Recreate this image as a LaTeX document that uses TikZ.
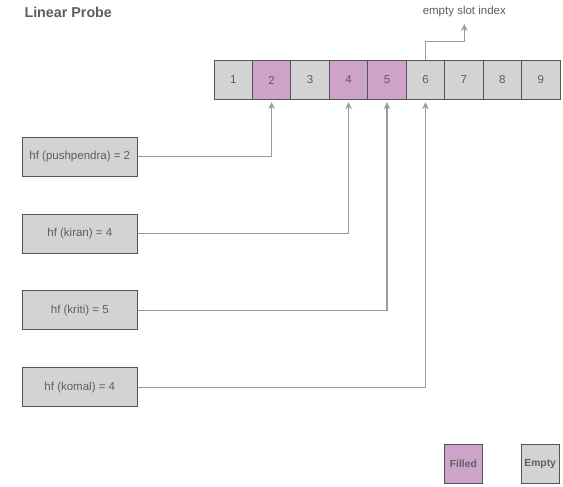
\documentclass[tikz,border=0pt]{standalone}
\usepackage{fontspec}
\setmainfont{Liberation Sans}
\usetikzlibrary{arrows.meta}
\definecolor{cellgray}{HTML}{D3D3D3}
\definecolor{cellpink}{HTML}{CDA3C7}
\definecolor{edgegray}{HTML}{555555}
\definecolor{txtgray}{HTML}{5E5E5E}
\definecolor{linegray}{HTML}{9A9A9A}
\tikzset{
  cell/.style={draw=edgegray, line width=0.9pt, minimum width=38.4pt, minimum height=38.4pt,
    inner sep=0pt, text=txtgray, font=\fontsize{11.5}{13}\selectfont},
  emptycell/.style={cell, fill=cellgray},
  filledcell/.style={cell, fill=cellpink},
  hfbox/.style={draw=edgegray, line width=0.9pt, fill=cellgray, minimum width=115.5pt,
    minimum height=39pt, inner sep=0pt, text=txtgray, font=\fontsize{11.5}{13}\selectfont},
  legendbox/.style={draw=edgegray, line width=0.9pt, minimum width=38.5pt, minimum height=39pt,
    inner sep=0pt, text=txtgray, font=\bfseries\fontsize{10.3}{12}\selectfont},
  conn/.style={draw=linegray, line width=1.1pt, -{Stealth[length=7pt,width=6.5pt]}},
}
\begin{document}
\begin{tikzpicture}[x=1pt,y=-1pt]
\useasboundingbox (0,0) rectangle (563,487);
\node[anchor=west, text=txtgray, font=\bfseries\fontsize{14.3}{16}\selectfont] (title) at (21,12) {Linear Probe};
% array cells
\foreach \i/\s in {1/emptycell,2/filledcell,3/emptycell,4/filledcell,5/filledcell,6/emptycell,7/emptycell,8/emptycell,9/emptycell}{
  \node[\s] (c\i) at ({214+38.45*(\i-1)+19.2},80) {\i};
}
% hf boxes
\node[hfbox] (hp) at (79.8,156.6) {hf (pushpendra) = 2};
\node[hfbox] (hk) at (79.8,233.5) {hf (kiran) = 4};
\node[hfbox] (hr) at (79.8,310.4) {hf (kriti) = 5};
\node[hfbox] (hm) at (79.8,387.2) {hf (komal) = 4};
% connectors
\coordinate (t2) at ([yshift=-2.5pt]c2.south);
\coordinate (t4) at ([yshift=-2.5pt]c4.south);
\coordinate (t5) at ([yshift=-2.5pt]c5.south);
\coordinate (t6) at ([yshift=-2.5pt]c6.south);
\draw[conn] (hp.east) -| (t2);
\draw[conn] (hk.east) -| (t4);
\draw[conn] (hr.east) -| (t5);
\draw[conn] (hm.east) -| (t6);
% empty slot index
\node[text=txtgray, font=\fontsize{11.5}{13}\selectfont] (esi) at (464.3,12) {empty slot index};
\coordinate (esitip) at (464.3,24);
\draw[conn] (c6.north) |- (464.3,41.7) -- (esitip);
% legend
\node[legendbox, fill=cellpink] (lf) at (463.4,463.8) {Filled};
\node[legendbox, fill=cellgray] (le) at (540.2,463.8) {Empty};
\end{tikzpicture}
\end{document}
